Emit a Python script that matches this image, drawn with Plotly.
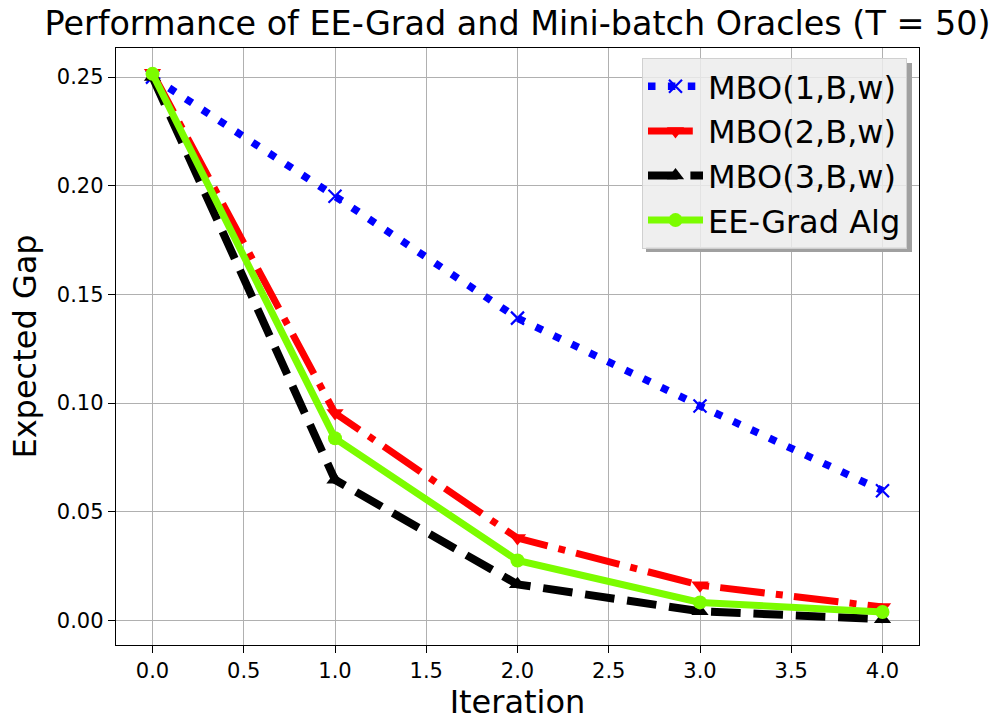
import plotly.graph_objects as go

# Iterations and expected-gap values per oracle
iterations = [0, 1, 2, 3, 4]
mbo1 = [0.250, 0.1952, 0.1391, 0.0987, 0.0597]
mbo2 = [0.252, 0.0954, 0.0379, 0.0162, 0.0062]
mbo3 = [0.250, 0.0647, 0.0166, 0.0042, 0.0006]
ee_grad = [0.2515, 0.0838, 0.0276, 0.0083, 0.0039]

x_ticks = [0.0, 0.5, 1.0, 1.5, 2.0, 2.5, 3.0, 3.5, 4.0]
y_ticks = [0.00, 0.05, 0.10, 0.15, 0.20, 0.25]

FONT = "DejaVu Sans"

series = [
    dict(name="MBO(1,B,w)", y=mbo1, color="#0000ff", dash="7.5px,12.4px", width=7.5,
         symbol="x-thin", msize=13, mline=2.2),
    dict(name="MBO(2,B,w)", y=mbo2, color="#ff0000", dash="44.8px,11.2px,7px,11.2px", width=7,
         symbol="triangle-down", msize=15, mline=0),
    dict(name="MBO(3,B,w)", y=mbo3, color="#000000", dash="29.6px,12.8px", width=8,
         symbol="triangle-up", msize=15, mline=0),
    dict(name="EE-Grad Alg", y=ee_grad, color="#7cfc00", dash="solid", width=7,
         symbol="circle", msize=14, mline=0),
]

fig = go.Figure()
for s in series:
    fig.add_trace(go.Scatter(
        x=iterations, y=s["y"], name=s["name"], mode="lines+markers",
        line=dict(color=s["color"], width=s["width"], dash=s["dash"]),
        marker=dict(symbol=s["symbol"], size=s["msize"], color=s["color"],
                    line=dict(color=s["color"], width=s["mline"])),
    ))

axis_common = dict(
    showline=True, mirror=True, linecolor="black", linewidth=1.4,
    showgrid=True, gridcolor="#b0b0b0", gridwidth=1.4,
    ticks="outside", ticklen=7, tickwidth=1.4, tickcolor="black",
    tickfont=dict(family=FONT, size=21, color="black"),
    zeroline=False,
)

# plot-area geometry in pixels (used for legend placement and its shadow)
L, R, T, B = 116, 79, 48, 78
W, H = 998, 723
pw, ph = W - L - R, H - T - B

# legend box corners (px) and shadow offset
LEG_RIGHT, LEG_TOP, LEG_LEFT, LEG_BOTTOM = 907, 58, 641, 247
SH = 5


def px_x(v):
    return (v - L) / pw


def px_y(v):
    return (H - B - v) / ph


fig.update_layout(
    width=W, height=H,
    margin=dict(l=L, r=R, t=T, b=B),
    paper_bgcolor="white", plot_bgcolor="white",
    font=dict(family=FONT, color="black"),
    title=dict(text="Performance of EE-Grad and Mini-batch Oracles (T = 50)",
               font=dict(family=FONT, size=33.4, color="black"),
               x=0.5, xref="paper", xanchor="center",
               y=1 - 23 / H, yref="container", yanchor="middle"),
    xaxis=dict(axis_common, range=[-0.2, 4.2], tickvals=x_ticks,
               ticktext=[f"{v:.1f}" for v in x_ticks],
               title=dict(text="Iteration", font=dict(family=FONT, size=32), standoff=6)),
    yaxis=dict(axis_common, range=[-0.0113, 0.2634], tickvals=y_ticks,
               ticktext=[f"{v:.2f}" for v in y_ticks],
               title=dict(text="Expected Gap", font=dict(family=FONT, size=32), standoff=10)),
    legend=dict(x=px_x(LEG_RIGHT), y=px_y(LEG_TOP), xanchor="right", yanchor="top",
                bgcolor="rgba(236,236,236,0.85)", bordercolor="#d0d0d0", borderwidth=1,
                font=dict(family=FONT, size=32, color="black"),
                itemwidth=55),
    showlegend=True,
)

# legend drop shadow: strips along the right and bottom edges
shadow = dict(type="rect", xref="paper", yref="paper", fillcolor="#a0a0a0",
              line=dict(width=0), layer="above")
fig.add_shape(shadow, x0=px_x(LEG_RIGHT), x1=px_x(LEG_RIGHT + SH),
              y0=px_y(LEG_BOTTOM + SH), y1=px_y(LEG_TOP + SH))
fig.add_shape(shadow, x0=px_x(LEG_LEFT + SH), x1=px_x(LEG_RIGHT),
              y0=px_y(LEG_BOTTOM + SH), y1=px_y(LEG_BOTTOM))

fig.write_html("out.html")
